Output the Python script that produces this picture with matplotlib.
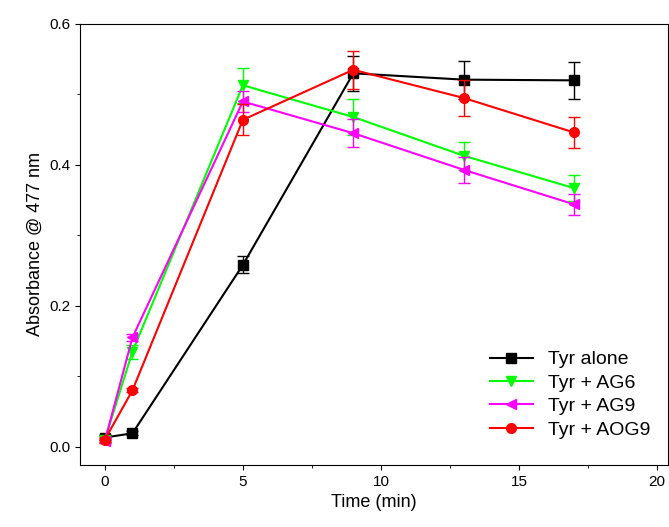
import matplotlib
matplotlib.use("Agg")
import matplotlib.pyplot as plt

time = [0, 1, 5, 9, 13, 17]
labels = ["Tyr alone", "Tyr + AG6", "Tyr + AG9", "Tyr + AOG9"]
tyr = [0.013, 0.019, 0.258, 0.530, 0.521, 0.520]
tyr_err = [0.003, 0.003, 0.012, 0.025, 0.027, 0.026]
ag6 = [0.010, 0.135, 0.513, 0.468, 0.413, 0.367]
ag6_err = [0.005, 0.010, 0.025, 0.025, 0.020, 0.018]
ag9 = [0.008, 0.155, 0.490, 0.445, 0.393, 0.344]
ag9_err = [0.003, 0.005, 0.015, 0.020, 0.018, 0.015]
aog9 = [0.010, 0.080, 0.464, 0.535, 0.495, 0.446]
aog9_err = [0.003, 0.003, 0.022, 0.027, 0.025, 0.022]

plt.rcParams['font.family'] = ['Liberation Sans', 'DejaVu Sans']
fig = plt.figure(figsize=(6.69, 5.27), dpi=100)
ax = fig.add_axes([80/669, 1-465/527, (668-80)/669, (465-24)/527])
series = [(tyr, tyr_err, 'black', 's'), (ag6, ag6_err, '#00ff00', 'v'),
          (ag9, ag9_err, '#ff00ff', '<'), (aog9, aog9_err, 'red', 'o')]
handles = []
for (v, e, c, m), lab in zip(series, labels):
    ax.errorbar(time, v, yerr=e, color=c, fmt='none', capsize=4,
                elinewidth=1, capthick=1)
    h, = ax.plot(time, v, color=c, marker=m, markersize=7, lw=1.5, label=lab)
    handles.append(h)
ax.set_xlim(-0.9, 20.4)
ax.set_ylim(-0.026, 0.6)
ax.set_xticks([0, 5, 10, 15, 20])
ax.set_yticks([0.0, 0.2, 0.4, 0.6])
ax.set_yticks([0.1, 0.3, 0.5], minor=True)
ax.set_xticks([2.5, 7.5, 12.5, 17.5], minor=True)
ax.tick_params(labelsize=11)
ax.set_xlabel("Time (min)", fontsize=13)
ax.set_ylabel("Absorbance @ 477 nm", fontsize=13)
ax.legend(handles=handles, loc='lower right', frameon=False, fontsize=14,
          handlelength=2.2, labelspacing=0.3, bbox_to_anchor=(1.0, 0.02))
fig.savefig("out.png")
